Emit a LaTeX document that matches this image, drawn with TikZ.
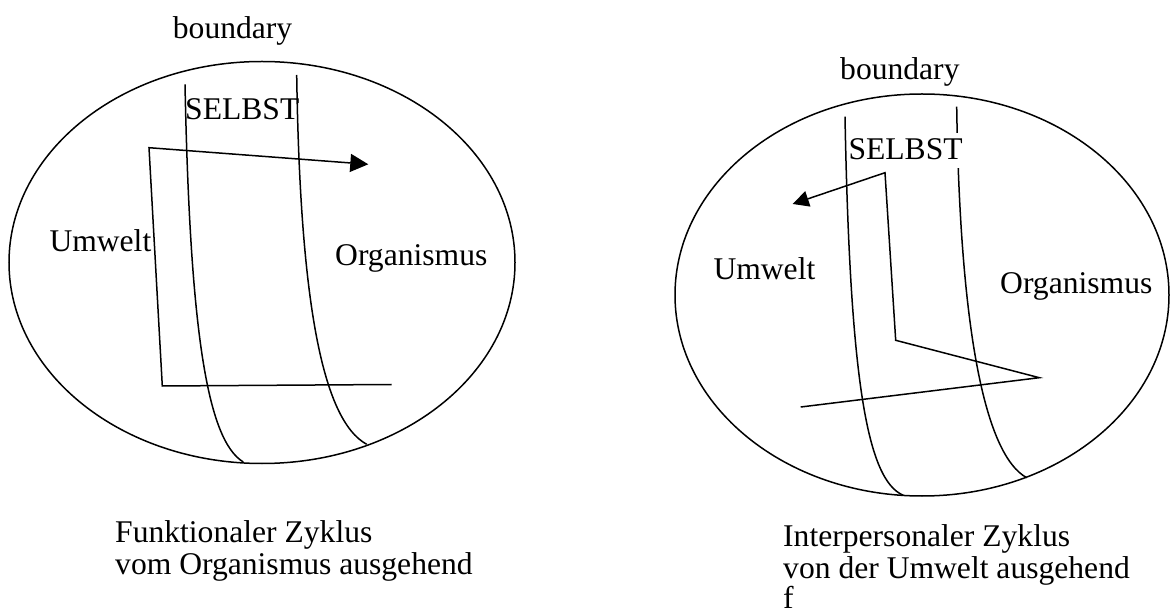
\documentclass[tikz,border=0pt]{standalone}
\usepackage{fontspec}
\setmainfont{Liberation Serif}
\usetikzlibrary{arrows.meta}
\tikzset{
  stroke/.style={line width=1.5pt, line join=miter},
  lbl/.style={anchor=base west, inner sep=0pt, font=\fontsize{31.6}{32}\selectfont},
  tipL/.style={-{Triangle[length=18pt,width=18pt]}},
  tipR/.style={-{Triangle[length=16pt,width=16pt]}},
}
\begin{document}
\begin{tikzpicture}[x=1pt,y=-1pt]
\useasboundingbox (0,0) rectangle (1171,612);
% ---------- left diagram ----------
\draw[stroke] (262,262.5) ellipse [x radius=253, y radius=201];
\coordinate (Lb1top) at (185,84.3);
\coordinate (Lb1bot) at (243.3,462);
\coordinate (Lb2top) at (296.7,75);
\coordinate (Lb2bot) at (366.7,444.3);
\draw[stroke] (Lb1top) .. controls (190,330) and (207,440) .. (Lb1bot);
\draw[stroke] (Lb2top) .. controls (300,300) and (322,420) .. (Lb2bot);
\coordinate (Lp0) at (391.7,384.5);
\coordinate (Lp1) at (162.3,386);
\coordinate (Lp2) at (149,147.7);
\coordinate (Lp3) at (368.3,164.3);
\draw[stroke, tipL] (Lp0) -- (Lp1) -- (Lp2) -- (Lp3);
\node[lbl] (Lboundary) at (172.7,38.3) {boundary};
\node[lbl] (Lselbst) at (185,119.3) {SELBST};
\node[lbl] (Lumwelt) at (49.3,251.7) {Umwelt};
\node[lbl] (Lorg) at (335,266) {Organismus};
\node[lbl] (Lcap1) at (115,542.7) {Funktionaler Zyklus};
\node[lbl] (Lcap2) at (115,574.3) {vom Organismus ausgehend};
% ---------- right diagram ----------
\draw[stroke] (922,295) ellipse [x radius=247, y radius=201];
\coordinate (Rb1top) at (845,116.7);
\coordinate (Rb1bot) at (903.3,495.3);
\coordinate (Rb2top) at (956.7,106.7);
\coordinate (Rb2bot) at (1026.7,477.7);
\draw[stroke] (Rb1top) .. controls (850,380) and (867,480) .. (Rb1bot);
\draw[stroke] (Rb2top) .. controls (960,330) and (985,455) .. (Rb2bot);
\coordinate (Rp0) at (800.7,407);
\coordinate (Rp1) at (1039.3,377.7);
\coordinate (Rp2) at (895.7,340.3);
\coordinate (Rp3) at (885,172.7);
\coordinate (Rp4) at (792.7,204);
\draw[stroke, tipR] (Rp0) -- (Rp1) -- (Rp2) -- (Rp3) -- (Rp4);
\node[lbl] (Rboundary) at (840,80) {boundary};
\node[lbl, fill=white, text height=26pt, text depth=8.5pt] (Rselbst) at (848.3,159.3) {SELBST};
\node[lbl] (Rumwelt) at (713.3,280) {Umwelt};
\node[lbl] (Rorg) at (1000,293.3) {Organismus};
\node[lbl] (Rcap1) at (783,546.5) {Interpersonaler Zyklus};
\node[lbl] (Rcap2) at (783,578) {von der Umwelt ausgehend};
\node[lbl] (Rcap3) at (783,608.5) {f};
\end{tikzpicture}
\end{document}
